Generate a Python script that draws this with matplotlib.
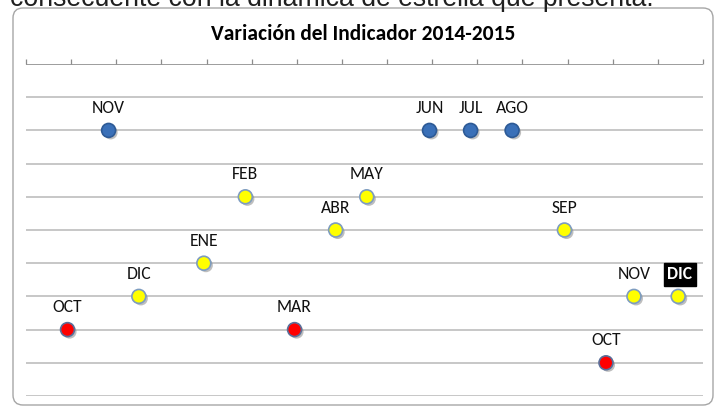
import matplotlib.pyplot as plt
import matplotlib.patheffects as pe
from matplotlib import font_manager
from matplotlib.patches import FancyBboxPatch

# months Oct 2014 - Dec 2015
meses = ["OCT", "NOV", "DIC", "ENE", "FEB", "MAR", "ABR", "MAY",
         "JUN", "JUL", "AGO", "SEP", "OCT", "NOV", "DIC"]
x_vals = [0.92, 1.83, 2.50, 3.94, 4.86, 5.95, 6.86, 7.55,
          8.94, 9.85, 10.77, 11.93, 12.85, 13.47, 14.45]
niveles = [2, 8, 3, 4, 6, 2, 5, 6, 8, 8, 8, 5, 1, 3, 3]
estado = ["rojo", "azul", "amarillo", "amarillo", "amarillo", "rojo",
          "amarillo", "amarillo", "azul", "azul", "azul", "amarillo",
          "rojo", "amarillo", "amarillo"]

face = {"rojo": "#ff0000", "amarillo": "#ffff00", "azul": "#3a70b8"}
edge = {"rojo": "#5a6f9a", "amarillo": "#7d9cc0", "azul": "#2d5a96"}

# pick a narrow, Calibri-like font if one is installed
installed = {f.name for f in font_manager.fontManager.ttflist}
narrow = "DejaVu Sans"
for name in ["Carlito", "Liberation Sans Narrow", "DejaVu Sans Condensed",
             "Roboto Condensed", "Lato", "Roboto"]:
    if name in installed:
        narrow = name
        break

fig = plt.figure(figsize=(7.19, 4.08), dpi=100)
renderer = fig.canvas.get_renderer()


def fit_width(txt, width_px):
    # scale font so the text is about width_px wide
    w = txt.get_window_extent(renderer).width
    txt.set_fontsize(txt.get_fontsize() * width_px / w)


# rounded chart frame (pixel coords)
frame = FancyBboxPatch((13, 3), 700, 397, boxstyle="round,pad=0,rounding_size=10",
                       transform=None, facecolor="none", edgecolor="#a6a6a6",
                       linewidth=1.0, zorder=-1)
fig.patches.append(frame)

# text from the page, cut off at the top
page = fig.text(10 / 719, 1 - 6 / 408, "consecuente con la dinámica de estrella que presenta.",
                fontsize=19, family="Liberation Sans", color="#202020",
                ha="left", va="baseline")
fit_width(page, 645)

title = fig.text(363 / 719, 1 - 40 / 408, "Variación del Indicador 2014-2015",
                 fontsize=14, fontweight="bold", family=narrow, ha="center", va="baseline")
fit_width(title, 306)

ax = fig.add_axes([26 / 719, 1 - 396 / 408, 677 / 719, 332 / 408])
ax.set_xlim(0, 15)
ax.set_ylim(0, 10)
ax.patch.set_visible(False)

for lvl in range(0, 10):
    ax.axhline(lvl, color="#c3c3c3", lw=1.3, zorder=1)
ax.axhline(10, color="#8c8c8c", lw=1.2, zorder=1)
for t in range(0, 16):
    ax.plot([t], [10], marker=2, markersize=3.5, color="#8c8c8c",
            markeredgewidth=0.9, clip_on=False, zorder=1)

for s in ax.spines.values():
    s.set_visible(False)
ax.set_xticks([])
ax.set_yticks([])

shadow = [pe.SimplePatchShadow(offset=(1.5, -1.5), shadow_rgbFace="#7f7f7f", alpha=0.5),
          pe.Normal()]

# label size from "NOV" being ~33 px wide
probe = fig.text(0, 0, "NOV", fontsize=12, family=narrow)
fit_width(probe, 33)
lbl_size = probe.get_fontsize()
probe.remove()

for i, (m, x, y, st) in enumerate(zip(meses, x_vals, niveles, estado)):
    ax.plot(x, y, "o", markersize=10, markerfacecolor=face[st],
            markeredgecolor=edge[st], markeredgewidth=1.2,
            path_effects=shadow, zorder=3, clip_on=False)
    if i == len(meses) - 1:
        ax.annotate(m, (x, y), xytext=(1, 12.5), textcoords="offset points",
                    ha="center", va="baseline", fontsize=lbl_size, fontweight="bold",
                    family=narrow, color="white",
                    bbox=dict(boxstyle="square,pad=0.2", fc="black", ec="black"))
    else:
        ax.annotate(m, (x, y), xytext=(0, 12.5), textcoords="offset points",
                    ha="center", va="baseline", fontsize=lbl_size,
                    family=narrow, color="#111111")

fig.savefig("out.png", dpi=100)
